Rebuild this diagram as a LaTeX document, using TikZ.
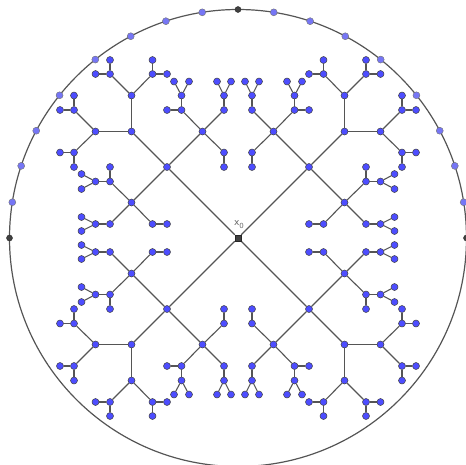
\documentclass[tikz,border=0pt]{standalone}
\usepackage{fontspec}
\newfontfamily\ggb{DejaVu Sans}
\definecolor{ptblue}{RGB}{77,77,255}
\definecolor{bdblue}{RGB}{118,118,245}
\definecolor{edgegray}{RGB}{85,85,85}
\pgfdeclarelayer{bg}
\pgfsetlayers{bg,main}
\begin{document}
\begin{tikzpicture}[x=1pt,y=-1pt,
  pt/.style={circle,fill=ptblue,draw=black!75,line width=0.5pt,inner sep=0pt,minimum size=7pt},
  bd/.style={circle,fill=bdblue,draw=black!55,line width=0.4pt,inner sep=0pt,minimum size=7pt},
  cp/.style={circle,fill=black!75,draw=black!85,line width=0.4pt,inner sep=0pt,minimum size=6pt},
  edge/.style={draw=edgegray,line width=1.1pt}]
\useasboundingbox (0,0) rectangle (466,464);
\clip (0,0) rectangle (466,464);
\draw[edgegray,line width=1.2pt] (238,238) circle[radius=228.5];
\node[rectangle,fill=black!75,draw=black!85,line width=0.4pt,minimum size=6pt,inner sep=0pt] (x0) at (238,238) {};
\node[text=black!60,font=\ggb\fontsize{9}{9}\selectfont,inner sep=0pt] (lab) at (239,224.5) {x\raisebox{-2.5pt}{\fontsize{7}{7}\selectfont 0}};
\foreach \k [count=\j] in {0,90,180} {
  \node[cp] (cp\j) at ({238+228.5*cos(\k)},{238-228.5*sin(\k)}) {};
}
\foreach \k [count=\j] in {0,90} {
  \foreach \a [count=\i] in {9,18.4,28,38.65,51.35,62,71.6,81}
    \node[bd] (bd\j-\i) at ({238+228.5*cos(\k+\a)},{238-228.5*sin(\k+\a)}) {};
}
\foreach \q/\sx/\sy in {tl/1/1,tr/-1/1,bl/1/-1,br/-1/-1} {
  \begin{scope}[shift={(238,238)},xscale=\sx,yscale=\sy]
    \foreach \n/\px/\py in {
      A/-71/-71, B/-106.5/-106.5, C/-35.5/-106.5, D/-106.5/-35.5,
      Ba/-106.5/-142.5, Bb/-142.5/-106.5,
      Baa/-128/-164, Baaa/-128/-178, Baab/-142.5/-164,
      Bab/-85.5/-164, Baba/-85.5/-178, Babb/-71/-164,
      Bba/-164/-128, Bbaa/-178/-128, Bbab/-164/-142.5,
      Bbb/-164/-85.5, Bbba/-178/-85.5, Bbbb/-164/-71,
      Ca/-56.5/-128, Caa/-56.5/-142.5, Cab/-71/-128, Caaa/-64/-156.5, Caab/-49/-156.5,
      Cb/-14/-128, Cba/-14/-142.5, Cbaa/-21/-156.5, Cbab/-7/-156.5,
      Cc/-14/-85.5, Cca/-14/-71,
      Da/-128/-56.5, Daa/-142.5/-56.5, Dab/-128/-71, Daaa/-156.5/-64, Daab/-156.5/-49,
      Db/-128/-14, Dba/-142.5/-14, Dbaa/-156.5/-21, Dbab/-156.5/-7,
      Dc/-85.5/-14, Dca/-71/-14}
      \node[pt] (\q\n) at (\px,\py) {};
    \begin{pgfonlayer}{bg}
      \draw[edge] (x0) -- (\q A);
      \foreach \u/\v in {A/B,A/C,A/D,B/Ba,B/Bb,
        Ba/Baa,Ba/Bab,Baa/Baaa,Baa/Baab,Bab/Baba,Bab/Babb,
        Bb/Bba,Bb/Bbb,Bba/Bbaa,Bba/Bbab,Bbb/Bbba,Bbb/Bbbb,
        C/Ca,C/Cb,C/Cc,Ca/Caa,Ca/Cab,Caa/Caaa,Caa/Caab,Cb/Cba,Cba/Cbaa,Cba/Cbab,Cc/Cca,
        D/Da,D/Db,D/Dc,Da/Daa,Da/Dab,Daa/Daaa,Daa/Daab,Db/Dba,Dba/Dbaa,Dba/Dbab,Dc/Dca}
        \draw[edge] (\q\u) -- (\q\v);
    \end{pgfonlayer}
  \end{scope}
}
\end{tikzpicture}
\end{document}
